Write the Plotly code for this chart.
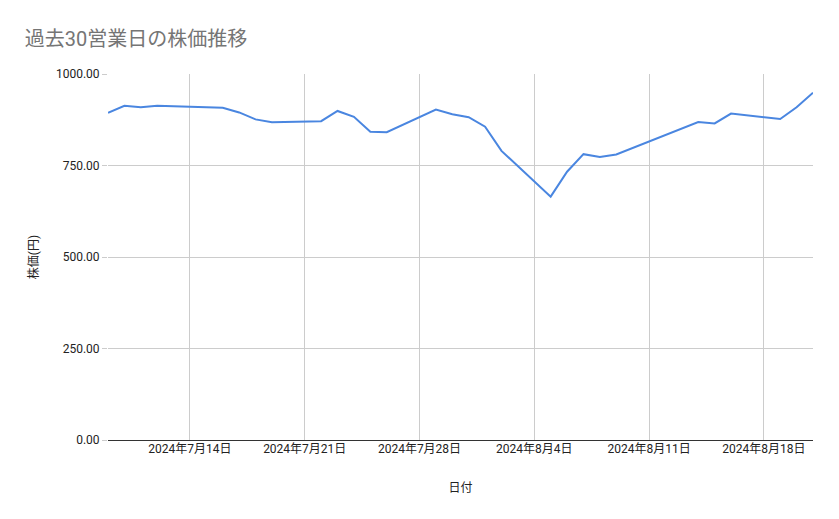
import plotly.graph_objects as go

dates = ["2024-07-09", "2024-07-10", "2024-07-11", "2024-07-12", "2024-07-16",
         "2024-07-17", "2024-07-18", "2024-07-19", "2024-07-22", "2024-07-23",
         "2024-07-24", "2024-07-25", "2024-07-26", "2024-07-29", "2024-07-30",
         "2024-07-31", "2024-08-01", "2024-08-02", "2024-08-05", "2024-08-06",
         "2024-08-07", "2024-08-08", "2024-08-09", "2024-08-13", "2024-08-14",
         "2024-08-15", "2024-08-16", "2024-08-19", "2024-08-20", "2024-08-21"]
prices = [894, 913, 909, 913, 908,
          895, 876, 868, 871, 899,
          883, 842, 841, 903, 890,
          882, 856, 790, 665, 733,
          781, 773, 780, 851, 869,
          865, 892, 877, 909, 949]

tick_dates = ["2024-07-14", "2024-07-21", "2024-07-28", "2024-08-04", "2024-08-11", "2024-08-18"]
tick_labels = ["2024年7月14日", "2024年7月21日", "2024年7月28日", "2024年8月4日", "2024年8月11日", "2024年8月18日"]
y_ticks = [0, 250, 500, 750, 1000]

FONT = "Roboto, 'Noto Sans CJK JP', sans-serif"

fig = go.Figure()
fig.add_trace(go.Scatter(x=dates, y=prices, mode="lines",
                         line=dict(color="#4a86e0", width=2), showlegend=False))

fig.update_layout(
    width=839, height=519,
    margin=dict(l=100, r=34, t=66, b=87),
    paper_bgcolor="white", plot_bgcolor="white",
    font=dict(family=FONT, size=12, color="#222222"),
    title=dict(text="過去30営業日の株価推移", x=0.02, xanchor="left", y=0.94, yanchor="middle",
               font=dict(family=FONT, size=20, color="#757575")),
    xaxis=dict(range=["2024-07-09", "2024-08-21"], tickvals=tick_dates, ticktext=tick_labels,
               showgrid=True, gridcolor="#cccccc", gridwidth=1,
               showline=False, zeroline=False, ticks="",
               tickfont=dict(size=12, color="#222222"),
               title=dict(text="日付", standoff=28, font=dict(size=12, color="#222222"))),
    yaxis=dict(range=[0, 1000], tickvals=y_ticks, tickformat=".2f",
               showgrid=True, gridcolor="#cccccc", gridwidth=1,
               ticks="outside", ticklen=5, tickcolor="#cccccc",
               zeroline=True, zerolinecolor="#333333", zerolinewidth=1.3,
               showline=False,
               tickfont=dict(size=12, color="#222222"),
               title=dict(text="株価(円)", standoff=14, font=dict(size=12, color="#222222"))),
)

fig.write_html("out.html")
